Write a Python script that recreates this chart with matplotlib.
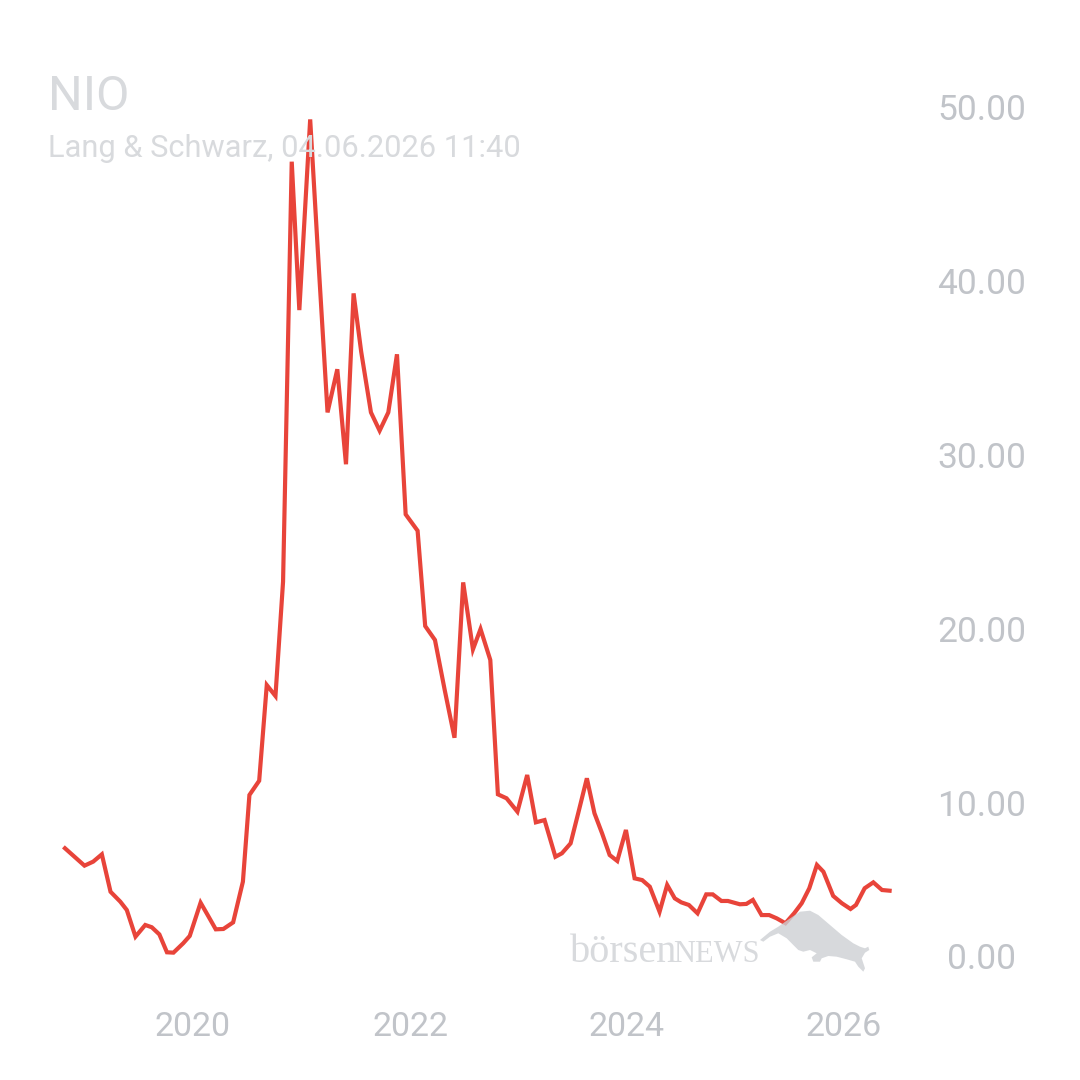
import numpy as np
import matplotlib
matplotlib.use('Agg')
import matplotlib.pyplot as plt
import matplotlib.transforms as mtransforms
from matplotlib.patches import Polygon

# Kursverlauf NIO (Lang & Schwarz), Datum als Dezimaljahr, Kurs in EUR
dates = [2018.82, 2019.00, 2019.08, 2019.16, 2019.24, 2019.33, 2019.39, 2019.47,
         2019.56, 2019.62, 2019.69, 2019.76, 2019.82, 2019.91, 2019.97, 2020.07,
         2020.14, 2020.21, 2020.28, 2020.37, 2020.46, 2020.52, 2020.61, 2020.68,
         2020.76, 2020.83, 2020.91, 2020.98, 2021.08, 2021.16, 2021.24, 2021.33,
         2021.41, 2021.48, 2021.55, 2021.64, 2021.72, 2021.80, 2021.88, 2021.96,
         2022.07, 2022.14, 2022.23, 2022.32, 2022.41, 2022.49, 2022.58, 2022.65,
         2022.74, 2022.81, 2022.89, 2022.99, 2023.08, 2023.16, 2023.24, 2023.34,
         2023.40, 2023.48, 2023.55, 2023.63, 2023.70, 2023.77, 2023.84, 2023.91,
         2023.99, 2024.07, 2024.14, 2024.21, 2024.30, 2024.37, 2024.44, 2024.50,
         2024.57, 2024.65, 2024.73, 2024.79, 2024.87, 2024.93, 2025.04, 2025.10,
         2025.16, 2025.24, 2025.31, 2025.38, 2025.46, 2025.54, 2025.61, 2025.68,
         2025.75, 2025.81, 2025.90, 2025.98, 2026.06, 2026.11, 2026.19, 2026.27,
         2026.35, 2026.42]
prices = [7.40, 6.40, 6.63, 7.05, 4.90, 4.33, 3.85, 2.32,
          2.99, 2.86, 2.45, 1.42, 1.40, 1.94, 2.36, 4.27,
          3.51, 2.74, 2.76, 3.14, 5.48, 10.46, 11.28, 16.78,
          16.15, 22.72, 46.86, 38.33, 49.29, 40.73, 32.45, 34.93,
          29.47, 39.29, 35.94, 32.45, 31.40, 32.45, 35.79, 26.59,
          25.65, 20.17, 19.37, 16.49, 13.75, 22.68, 18.83, 20.00,
          18.22, 10.50, 10.27, 9.50, 11.61, 8.89, 9.02, 6.91,
          7.11, 7.68, 9.41, 11.42, 9.41, 8.26, 7.01, 6.67,
          8.45, 5.67, 5.57, 5.19, 3.75, 5.29, 4.52, 4.29,
          4.14, 3.66, 4.75, 4.75, 4.37, 4.37, 4.18, 4.20,
          4.43, 3.56, 3.56, 3.37, 3.09, 3.66, 4.24, 5.10,
          6.44, 6.05, 4.66, 4.24, 3.91, 4.14, 5.10, 5.44,
          5.00, 4.96]

x_ticks = [2020, 2022, 2024, 2026]
y_ticks = [0, 10, 20, 30, 40, 50]

title = 'NIO'
subtitle = 'Lang & Schwarz, 04.06.2026 11:40'

plt.rcParams['font.family'] = ['Roboto', 'DejaVu Sans']
label_grey = '#c1c4c9'
text_grey = '#d8dadd'

fig = plt.figure(figsize=(10.8, 10.8), dpi=100)
W = H = 1080.0
# Achse in Pixeln: links 40, rechts 910, oben 90, unten 990
ax = fig.add_axes([40 / W, 1 - 990 / H, 870 / W, 900 / H])
ax.set_xlim(2018.59, 2026.608)
ax.set_ylim(-0.747, 50.98)

ax.plot(dates, prices, color='#e8443a', lw=3, solid_joinstyle='miter', zorder=3)

for s in ax.spines.values():
    s.set_visible(False)
ax.set_yticks([])
ax.set_xticks(x_ticks)
ax.set_xticklabels([str(t) for t in x_ticks])
ax.tick_params(axis='x', length=0, pad=15, labelsize=24.5, labelcolor=label_grey)

# Y-Beschriftung rechts, zentriert
trans = mtransforms.blended_transform_factory(fig.transFigure, ax.transData)
for v in y_ticks:
    dy = 18 if v == 0 else -3
    t = mtransforms.offset_copy(trans, fig=fig, y=dy, units='dots')
    ax.text(981.5 / W, v, '%.2f' % v, transform=t, ha='center', va='center',
            fontsize=25.5, color=label_grey, clip_on=False)

# Titel
fig.text(48 / W, 1 - 110 / H, title, fontsize=35, color=text_grey, ha='left', va='baseline', zorder=1)
fig.text(48 / W, 1 - 157 / H, subtitle, fontsize=22.2, color=text_grey, ha='left', va='baseline', zorder=1)

# Wasserzeichen
fig.text(570 / W, 1 - 962 / H, 'börsen', family='Liberation Serif', fontsize=29,
         color=text_grey, ha='left', va='baseline')
fig.text(673 / W, 1 - 962 / H, 'NEWS', family='Liberation Serif', fontsize=22,
         color=text_grey, ha='left', va='baseline')
bull_px = [(760, 940), (770, 931.7), (778.3, 926.7), (786.7, 920.7), (800, 911.7),
           (810, 910.7), (818.3, 915), (830, 925), (841.7, 935), (853.3, 943.3),
           (860, 946.7), (865, 948.3), (868.3, 946.7), (869.3, 950), (865, 952.7),
           (861.7, 958.3), (865, 968.3), (863.3, 971.7), (858.3, 966.7), (855, 961.7),
           (846.7, 959.3), (836.7, 956.7), (828.3, 956), (821.7, 958.3), (820, 961.7),
           (813.3, 961.7), (811.7, 957.3), (816.7, 953.3), (810, 950), (803.3, 951.7),
           (798.3, 950), (793.3, 945), (786.7, 938.3), (778.3, 933.3), (770, 936.7),
           (763.3, 941.7)]
bull = Polygon([(px / W, 1 - py / H) for px, py in bull_px], closed=True,
               transform=fig.transFigure, facecolor='#cdd0d4', edgecolor='none',
               alpha=0.8, zorder=5)
fig.patches.append(bull)

fig.savefig('out.png', dpi=100, facecolor='white')
